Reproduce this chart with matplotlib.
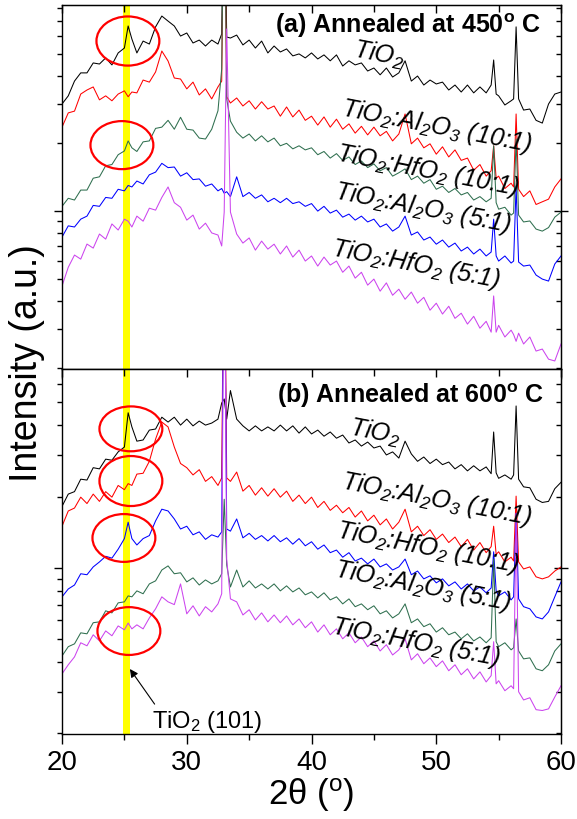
import numpy as np
import matplotlib.pyplot as plt
from matplotlib.patches import Ellipse
from matplotlib.ticker import MultipleLocator, NullFormatter

plt.rcParams['font.family'] = ['Liberation Sans', 'DejaVu Sans']
plt.rcParams['mathtext.default'] = 'regular'

# sampling positions of the digitised scans (degrees 2-theta)
two_theta = [20, 20.5, 21, 21.5, 22, 22.5, 23, 23.5, 24, 24.5, 25,
             25.3, 25.6, 26, 26.5, 27, 27.5, 28, 28.5, 29, 29.5, 30,
             30.5, 31, 31.5, 32, 32.5, 32.8, 33.0, 33.2, 33.5, 34,
             34.5, 35, 35.5, 36, 36.5, 37, 37.5, 38, 38.5, 39, 39.5,
             40, 40.5, 41, 41.5, 42, 42.5, 43, 43.5, 44, 44.5, 45,
             45.5, 46, 46.5, 47, 47.5, 48, 48.5, 49, 49.5, 50, 50.5,
             51, 51.5, 52, 52.5, 53, 53.5, 54, 54.4, 54.6, 54.8,
             55, 55.5, 56, 56.2, 56.4, 56.6, 57, 57.5, 58, 58.5, 59, 59.5, 60]

# (a) annealed at 450 C, stacked intensities (counts)
a_tio2 = [2990, 3250, 3780, 4110, 4110, 4550, 4500, 4790, 4460, 5040, 5300,
          6640, 5810, 5040, 5690, 5520, 6580, 7350, 6980, 6640, 5990, 6180,
          5580, 5750, 5410, 5750, 5520, 6120, 40000, 5930, 5870, 6050,
          5470, 5750, 5300, 5690, 5040, 5410, 5090, 5250, 4890, 4990, 4790,
          5040, 4740, 4940, 4650, 4940, 4410, 4650, 4460, 4550, 4190, 4320,
          4030, 4320, 3940, 4110, 4650, 3780, 3980, 3630, 3820, 3670, 3740,
          3450, 3630, 3380, 3630, 3350, 3560, 3350, 3630, 4690, 3310,
          3250, 2960, 3090, 3150, 6580, 3150, 2810, 2840, 2530, 2460, 2990, 3310, 3380]
a_al_10 = [2360, 2730, 2780, 3310, 3450, 3560, 3120, 3250, 3090, 3310, 3420,
           3220, 3380, 3350, 3820, 3740, 4150, 5140, 4640, 3900, 3860, 3490,
           3740, 3280, 3490, 3150, 3560, 3780, 40000, 3220, 3020, 3180,
           2930, 3090, 2840, 3060, 2840, 2930, 2640, 2900, 2620, 2810, 2530,
           2640, 2410, 2620, 2360, 2560, 2310, 2440, 2220, 2380, 2180, 2360,
           2160, 2260, 2050, 2200, 2700, 1990, 2110, 1910, 1990, 1790, 1930,
           1740, 1870, 1680, 1720, 1520, 1610, 1430, 1510, 1950, 1400,
           1430, 1260, 1330, 1280, 2700, 1250, 1160, 1230, 1070, 1100, 1130, 1280, 1390]
a_hf_10 = [1050, 1140, 1120, 1240, 1240, 1400, 1420, 1590, 1610, 1780, 1850,
           2050, 1910, 1840, 2030, 2050, 2330, 2360, 2530, 2310, 2610, 2310,
           2290, 2110, 2090, 2310, 2790, 4280, 40000, 3150, 2510, 2240,
           2110, 2200, 2050, 2160, 2030, 2110, 1950, 2000, 1890, 1950, 1870,
           1910, 1780, 1840, 1720, 1800, 1680, 1740, 1610, 1670, 1560, 1620,
           1510, 1560, 1430, 1480, 1540, 1380, 1430, 1330, 1380, 1250, 1290,
           1210, 1260, 1180, 1210, 1120, 1160, 1100, 1140, 1950, 1090,
           1020, 1040, 960, 980, 2090, 960, 895, 904, 832, 815, 845, 940, 990]
a_al_5 = [767, 860, 850, 921, 950, 1060, 1050, 1150, 1140, 1250, 1230,
          1300, 1280, 1360, 1320, 1450, 1490, 1630, 1560, 1570, 1430, 1480,
          1380, 1390, 1290, 1320, 1230, 1260, 1200, 1220, 1160, 1420,
          1160, 1210, 1140, 1180, 1100, 1140, 1090, 1140, 1080, 1100, 1050,
          1080, 1000, 1050, 980, 1010, 940, 970, 912, 950, 895, 921,
          850, 877, 815, 850, 950, 783, 808, 744, 767, 713, 744,
          692, 721, 665, 692, 645, 678, 632, 658, 921, 632,
          600, 632, 588, 600, 1290, 594, 570, 576, 520, 499, 489, 582, 632]
a_hf_5 = [465, 563, 638, 612, 714, 685, 791, 751, 877, 824, 921,
          902, 850, 950, 902, 1030, 1010, 1150, 1280, 1090, 1040, 912,
          960, 832, 884, 800, 783, 700, 990, 6440, 990, 791,
          721, 760, 671, 736, 678, 713, 645, 700, 625, 671, 600,
          632, 570, 625, 576, 600, 535, 570, 504, 535, 469, 499,
          441, 480, 423, 450, 406, 437, 390, 414, 363, 390, 349,
          378, 334, 352, 315, 341, 302, 324, 290, 420, 290,
          311, 276, 296, 283, 264, 287, 257, 276, 239, 244, 220, 216, 257]

# (b) annealed at 600 C
b_tio2 = [1820, 2050, 2100, 2370, 2350, 2650, 2620, 2880, 2850, 3090, 3240,
          4520, 3940, 3430, 3470, 3820, 3860, 4330, 4130, 4330, 4010, 4250,
          3980, 4170, 4010, 4090, 4250, 4970, 5170, 4250, 5610, 4250,
          3980, 3790, 3980, 3790, 3940, 3790, 4010, 3790, 3980, 3710, 3940,
          3680, 3820, 3600, 3750, 3530, 3640, 3370, 3470, 3270, 3400, 3210,
          3270, 3000, 3090, 2910, 3430, 3030, 2820, 2940, 2760, 2880, 2730,
          2800, 2620, 2730, 2570, 2700, 2570, 2670, 2500, 3750, 2520,
          2390, 2470, 2370, 2470, 4830, 2370, 2200, 2180, 1950, 1890, 1910, 2160, 2300]
b_al_10 = [1500, 1740, 1790, 1990, 1870, 2050, 1910, 2100, 1990, 2230, 2140,
           2270, 2230, 2490, 2510, 2820, 3500, 4130, 3940, 3240, 2760, 2650,
           2470, 2600, 2320, 2430, 2230, 2400, 40000, 2400, 2320, 2540,
           2110, 2230, 2030, 2180, 2010, 2160, 1990, 2110, 1910, 2030, 1870,
           1990, 1800, 1910, 1750, 1840, 1710, 1800, 1640, 1740, 1580, 1670,
           1520, 1610, 1460, 1560, 1770, 1420, 1500, 1370, 1450, 1320, 1390,
           1280, 1350, 1230, 1320, 1190, 1280, 1160, 1230, 1500, 1140,
           1170, 1060, 1110, 1070, 2010, 1060, 990, 1010, 917, 899, 917, 970, 1010]
b_hf_10 = [755, 815, 847, 945, 936, 1010, 1060, 1120, 1100, 1200, 1330,
           1560, 1330, 1250, 1330, 1370, 1580, 1770, 1740, 1610, 1460, 1500,
           1380, 1420, 1320, 1380, 1350, 1420, 40000, 1460, 1430, 1610,
           1340, 1400, 1320, 1370, 1300, 1370, 1290, 1340, 1260, 1330, 1240,
           1290, 1200, 1250, 1160, 1190, 1110, 1160, 1070, 1100, 1040, 1090,
           1010, 1040, 980, 1010, 1090, 936, 970, 899, 926, 865, 899,
           840, 873, 815, 856, 800, 831, 785, 823, 1170, 800,
           763, 792, 733, 755, 1700, 740, 686, 672, 621, 609, 652, 755, 873]
b_al_5 = [425, 465, 478, 532, 527, 587, 592, 659, 646, 712, 719,
          762, 755, 800, 778, 856, 882, 980, 1020, 945, 954, 873,
          908, 847, 890, 856, 882, 945, 1950, 1030, 831, 980,
          831, 882, 823, 856, 815, 856, 800, 840, 792, 823, 770,
          792, 747, 785, 733, 755, 705, 740, 686, 705, 666, 692,
          640, 659, 615, 640, 705, 587, 609, 565, 581, 536, 559,
          522, 536, 502, 527, 492, 511, 483, 507, 1090, 488,
          465, 483, 451, 460, 609, 446, 413, 417, 375, 368, 390, 446, 478]
b_hf_5 = [357, 390, 421, 483, 469, 522, 492, 542, 517, 569, 548,
          585, 553, 575, 553, 615, 672, 755, 719, 700, 856, 640,
          692, 627, 686, 652, 705, 778, 40000, 1090, 740, 719,
          633, 666, 603, 646, 592, 633, 587, 627, 575, 609, 559,
          592, 536, 575, 522, 553, 502, 532, 483, 511, 465, 492,
          446, 474, 429, 451, 502, 409, 434, 394, 417, 383, 405,
          368, 390, 354, 375, 340, 364, 330, 351, 488, 324,
          334, 303, 318, 309, 1700, 300, 277, 283, 252, 250, 254, 285, 318]

names_a = ["TiO$_2$", "TiO$_2$:Al$_2$O$_3$ (10:1)", "TiO$_2$:HfO$_2$ (10:1)",
           "TiO$_2$:Al$_2$O$_3$ (5:1)", "TiO$_2$:HfO$_2$ (5:1)"]
names_b = ["TiO$_2$", "TiO$_2$:Al$_2$O$_3$ (10:1)", "TiO$_2$:HfO$_2$ (10:1)",
           "TiO$_2$:Al$_2$O$_3$ (5:1)", "TiO$_2$:HfO$_2$ (5:1)"]

black, red, green, blue, violet = "#000000", "#ff0000", "#2f6f4f", "#0000ff", "#cc44ee"

fig = plt.figure(figsize=(5.77, 8.2), dpi=100)
ax1 = fig.add_axes([0.1075, 0.5488, 0.8648, 0.4439])
ax2 = fig.add_axes([0.1075, 0.1037, 0.8648, 0.4451])


def style_axes(ax, ymax, show_xlabels):
    ax.set_yscale('log')
    ax.set_xlim(20, 60)
    ax.set_ylim(199, ymax)
    ax.xaxis.set_major_locator(MultipleLocator(10))
    ax.xaxis.set_minor_locator(MultipleLocator(5))
    ax.tick_params(axis='x', which='major', direction='out', length=7, width=1,
                   labelsize=20, labelbottom=show_xlabels, pad=4)
    ax.tick_params(axis='x', which='minor', direction='out', length=4, width=1)
    ax.tick_params(axis='y', which='major', direction='out', length=6, width=1)
    ax.tick_params(axis='y', which='minor', direction='out', length=3.5, width=1)
    ax.tick_params(axis='y', which='both', labelleft=False)
    ax.yaxis.set_minor_formatter(NullFormatter())
    for sp in ax.spines.values():
        sp.set_linewidth(1.0)

    top = ax.secondary_xaxis('top')
    top.xaxis.set_major_locator(MultipleLocator(10))
    top.xaxis.set_minor_locator(MultipleLocator(5))
    top.tick_params(axis='x', which='both', direction='in', labeltop=False, width=1)
    top.tick_params(axis='x', which='major', length=6)
    top.tick_params(axis='x', which='minor', length=5)

    right = ax.secondary_yaxis('right')
    right.tick_params(axis='y', which='both', labelright=False, width=1)
    right.tick_params(axis='y', which='major', direction='inout', length=10)
    right.tick_params(axis='y', which='minor', direction='in', length=3.5)
    right.yaxis.set_minor_formatter(NullFormatter())

    ax.axvspan(24.9, 25.45, color='#ffff00', zorder=0, lw=0)


style_axes(ax1, 8230, False)
style_axes(ax2, 6920, True)

curves_a = [(a_tio2, black), (a_al_10, red), (a_hf_10, green), (a_al_5, blue), (a_hf_5, violet)]
curves_b = [(b_tio2, black), (b_al_10, red), (b_hf_10, blue), (b_al_5, green), (b_hf_5, violet)]

for vals, c in curves_a:
    ax1.plot(two_theta, vals, color=c, lw=0.75, zorder=2)
for vals, c in curves_b:
    ax2.plot(two_theta, vals, color=c, lw=0.75, zorder=2)

# sample labels along the tails
pos_a = [(0.581, 0.860), (0.557, 0.700), (0.547, 0.577), (0.543, 0.473), (0.537, 0.316)]
pos_b = [(0.573, 0.822), (0.557, 0.677), (0.547, 0.542), (0.543, 0.436), (0.537, 0.279)]
for ax, names, pos in [(ax1, names_a, pos_a), (ax2, names_b, pos_b)]:
    for txt, (px, py) in zip(names, pos):
        ax.text(px, py, txt, transform=ax.transAxes, rotation=-11,
                rotation_mode='anchor', ha='left', va='baseline',
                fontsize=18, style='italic', zorder=5)

ax1.text(0.427, 0.926, "(a) Annealed at 450$^{o}$ C", transform=ax1.transAxes,
         fontsize=18, fontweight='bold', ha='left', va='baseline')
ax2.text(0.431, 0.910, "(b) Annealed at 600$^{o}$ C", transform=ax2.transAxes,
         fontsize=18, fontweight='bold', ha='left', va='baseline')

# anatase (101) reflections circled
for cx, cy, h in [(0.132, 0.901, 0.135), (0.120, 0.615, 0.132)]:
    ax1.add_patch(Ellipse((cx, cy), 0.126, h, transform=ax1.transAxes,
                          fill=False, ec='red', lw=1.6, zorder=4))
for cx, cy, h in [(0.138, 0.836, 0.123), (0.138, 0.693, 0.137),
                  (0.124, 0.537, 0.131), (0.134, 0.282, 0.131)]:
    ax2.add_patch(Ellipse((cx, cy), 0.126, h, transform=ax2.transAxes,
                          fill=False, ec='red', lw=1.6, zorder=4))

ax2.annotate("TiO$_2$ (101)", xy=(0.136, 0.178), xycoords='axes fraction',
             xytext=(0.180, 0.019), textcoords='axes fraction',
             fontsize=17, ha='left', va='baseline',
             arrowprops=dict(arrowstyle='-|>', color='black', lw=0.8,
                             relpos=(0.05, 1.0), shrinkA=1, shrinkB=0,
                             mutation_scale=12))

ax2.set_xlabel("2θ ($^{o}$)", fontsize=25, labelpad=0)
fig.text(0.047, 0.557, "Intensity (a.u.)", rotation=90, fontsize=27,
         ha='center', va='center')

fig.savefig('out.png', dpi=100)
